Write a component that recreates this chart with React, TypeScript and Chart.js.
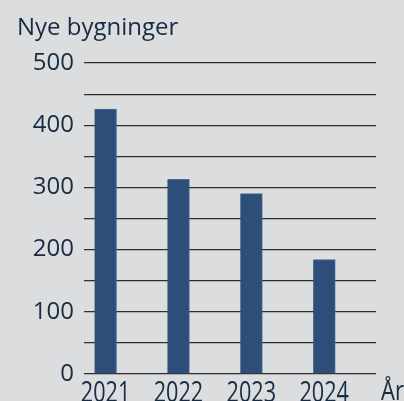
import React, { useEffect, useRef } from "react";
import { Chart, registerables } from "chart.js";

Chart.register(...registerables);

const years = [2021, 2022, 2023, 2024];
const buildings = [426, 313, 290, 184];
const yTicks = [0, 100, 200, 300, 400, 500];
const titleText = "Nye bygninger";
const xAxisLabel = "År";

const BG = "#dcdddf";
const BAR = "#2c4e78";
const TEXT = "#172b42";
const FONT = "'Open Sans', sans-serif";

export default function App() {
  const ref = useRef<HTMLCanvasElement | null>(null);

  useEffect(() => {
    document.body.style.margin = "0";
    const canvas = ref.current;
    if (!canvas) return;

    const textPlugin = {
      id: "extraText",
      afterDraw(chart: any) {
        const ctx = chart.ctx;
        const area = chart.chartArea;
        const xs = chart.scales.x;
        ctx.save();
        ctx.fillStyle = TEXT;
        ctx.font = `24px ${FONT}`;
        ctx.textAlign = "left";
        ctx.textBaseline = "alphabetic";
        ctx.fillText(titleText, 17, 35);

        ctx.font = `21px ${FONT}`;
        ctx.textAlign = "center";
        years.forEach((y) => {
          ctx.save();
          ctx.translate(xs.getPixelForValue(y), 402);
          ctx.scale(1.03, 1.4);
          ctx.fillText(String(y), 0, 0);
          ctx.restore();
        });
        ctx.textAlign = "left";
        ctx.save();
        ctx.translate(area.right + 5, 400);
        ctx.scale(1, 1.2);
        ctx.font = `22px ${FONT}`;
        ctx.fillText(xAxisLabel, 0, 0);
        ctx.restore();
        ctx.restore();
      },
    };

    const chart = new Chart(canvas, {
      type: "bar",
      data: {
        datasets: [
          {
            data: years.map((y, i) => ({ x: y, y: buildings[i] })),
            backgroundColor: BAR,
            borderColor: "#4a6a90",
            borderWidth: { top: 1, left: 0, right: 1, bottom: 0 },
            barThickness: 22,
          },
        ],
      },
      options: {
        animation: false,
        responsive: false,
        maintainAspectRatio: false,
        layout: { padding: { top: 63, right: 28, left: 0, bottom: 0 } },
        plugins: { legend: { display: false }, tooltip: { enabled: false }, title: { display: false } },
        scales: {
          x: {
            type: "linear",
            offset: false,
            min: 2020.705,
            max: 2024.71,
            grid: { display: false, offset: false },
            border: { display: false },
            afterBuildTicks: (scale: any) => {
              scale.ticks = years.map((v) => ({ value: v }));
            },
            afterFit: (scale: any) => {
              scale.height = 27;
            },
            ticks: { display: false },
          },
          y: {
            min: 0,
            max: 500,
            afterFit: (scale: any) => {
              scale.width = 84;
            },
            grid: { color: "#2e2e2e", lineWidth: 1.2, drawTicks: false },
            border: { display: false },
            ticks: {
              stepSize: 50,
              autoSkip: false,
              color: TEXT,
              font: { family: FONT, size: 24 },
              padding: 10,
              callback: (v: any) => (yTicks.includes(Number(v)) ? String(v) : ""),
            },
          },
        },
      },
      plugins: [textPlugin],
    } as any);

    return () => chart.destroy();
  }, []);

  return (
    <div style={{ width: 404, height: 401, background: BG }}>
      <canvas ref={ref} width={404} height={401} style={{ display: "block" }} />
    </div>
  );
}
